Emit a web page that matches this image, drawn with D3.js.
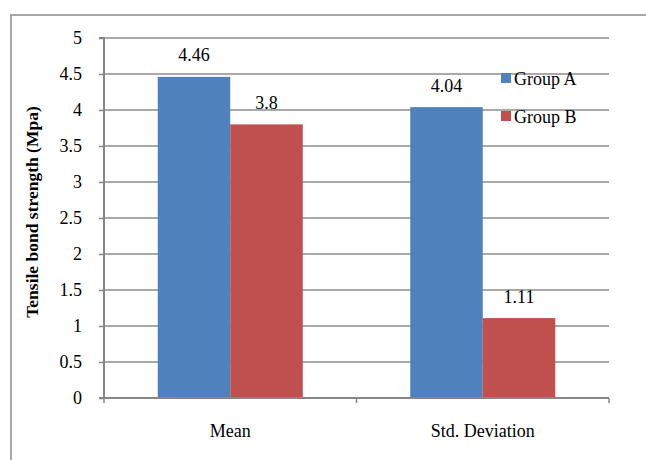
<!DOCTYPE html>
<html>
<head>
<meta charset="utf-8">
<script src="https://cdn.jsdelivr.net/npm/d3@7"></script>
<style>
  html, body { margin: 0; padding: 0; background: #fff; }
  svg { display: block; }
</style>
</head>
<body>
<svg id="chart" width="646" height="460"></svg>
<script>
const categories = ["Mean", "Std. Deviation"];
const seriesNames = ["Group A", "Group B"];
const groupA = [4.46, 4.04];
const groupB = [3.8, 1.11];
const yTicks = [0, 0.5, 1, 1.5, 2, 2.5, 3, 3.5, 4, 4.5, 5];
const yTickLabels = ["0", "0.5", "1", "1.5", "2", "2.5", "3", "3.5", "4", "4.5", "5"];
const colors = ["#4F81BD", "#C0504D"];

const data = categories.map((c, i) => ({ cat: c, vals: [groupA[i], groupB[i]] }));

const svg = d3.select("#chart");
const font = "Liberation Serif";
const fs = 18;
const pLeft = 104, pRight = 609, pTop = 38, pBottom = 398;

// outer frame
svg.append("path")
  .attr("d", `M11,470 L11,15 L660,15`)
  .attr("fill", "none").attr("stroke", "#a6a6a6").attr("stroke-width", 2);

const x = d3.scaleBand().domain(categories).range([pLeft, pRight]).paddingInner(0).paddingOuter(0);
const y = d3.scaleLinear().domain([0, 5]).range([pBottom, pTop]);
const xs = d3.scaleBand().domain([0, 1]).range([0, x.bandwidth()]).paddingInner(0).paddingOuter(0.741);

// gridlines
svg.append("g").selectAll("line").data(yTicks.filter(t => t > 0)).join("line")
  .attr("x1", pLeft).attr("x2", pRight)
  .attr("y1", d => y(d)).attr("y2", d => y(d))
  .attr("stroke", "#8c8c8c").attr("stroke-width", 1.5);

// bars
const g = svg.append("g");
data.forEach(d => {
  d.vals.forEach((v, j) => {
    g.append("rect")
      .attr("x", x(d.cat) + xs(j))
      .attr("y", y(v))
      .attr("width", xs.bandwidth())
      .attr("height", y(0) - y(v))
      .attr("fill", colors[j]);
    g.append("text")
      .attr("x", x(d.cat) + xs(j) + xs.bandwidth() / 2)
      .attr("y", y(v) - 15.5)
      .attr("text-anchor", "middle")
      .attr("font-family", font).attr("font-size", fs).attr("fill", "#000")
      .text(String(v));
  });
});

// y axis
const yAxis = d3.axisLeft(y).tickValues(yTicks).tickFormat((d, i) => yTickLabels[i]).tickSize(5).tickPadding(17);
const ya = svg.append("g").attr("transform", `translate(${pLeft},0)`).call(yAxis);
ya.attr("font-family", font).attr("font-size", fs);
ya.select(".domain").attr("stroke", "#868686").attr("stroke-width", 2).attr("d", `M${-5},${pTop}H0V${pBottom}H-5`);
ya.selectAll(".tick line").attr("stroke", "#868686").attr("stroke-width", 1.5);
ya.selectAll("text").attr("font-family", font).attr("font-size", fs).attr("fill", "#000");

// x axis
const xa = svg.append("g").attr("transform", `translate(0,${pBottom})`);
xa.append("line").attr("x1", pLeft - 5).attr("x2", pRight).attr("y1", 0).attr("y2", 0)
  .attr("stroke", "#868686").attr("stroke-width", 2);
const xTickPos = [pLeft, pLeft + x.bandwidth(), pRight];
xa.selectAll(".xt").data(xTickPos).join("line").attr("class", "xt")
  .attr("x1", d => d).attr("x2", d => d).attr("y1", 0).attr("y2", 5)
  .attr("stroke", "#868686").attr("stroke-width", 1.5);
xa.selectAll(".xl").data(categories).join("text").attr("class", "xl")
  .attr("x", d => x(d) + x.bandwidth() / 2).attr("y", 39)
  .attr("text-anchor", "middle")
  .attr("font-family", font).attr("font-size", fs).attr("fill", "#000")
  .text(d => d);

// y title
svg.append("text")
  .attr("transform", `translate(38,212) rotate(-90)`)
  .attr("text-anchor", "middle")
  .attr("font-family", font).attr("font-size", 17.5).attr("font-weight", "bold").attr("fill", "#000")
  .text("Tensile bond strength (Mpa)");

// legend
const lg = svg.append("g").attr("transform", "translate(501,73)");
seriesNames.forEach((s, i) => {
  lg.append("rect").attr("x", 0).attr("y", i * 38).attr("width", 10).attr("height", 10).attr("fill", colors[i]);
  lg.append("text").attr("x", 13).attr("y", i * 38 + 11.5)
    .attr("font-family", font).attr("font-size", fs).attr("fill", "#000").text(s);
});
</script>
</body>
</html>
